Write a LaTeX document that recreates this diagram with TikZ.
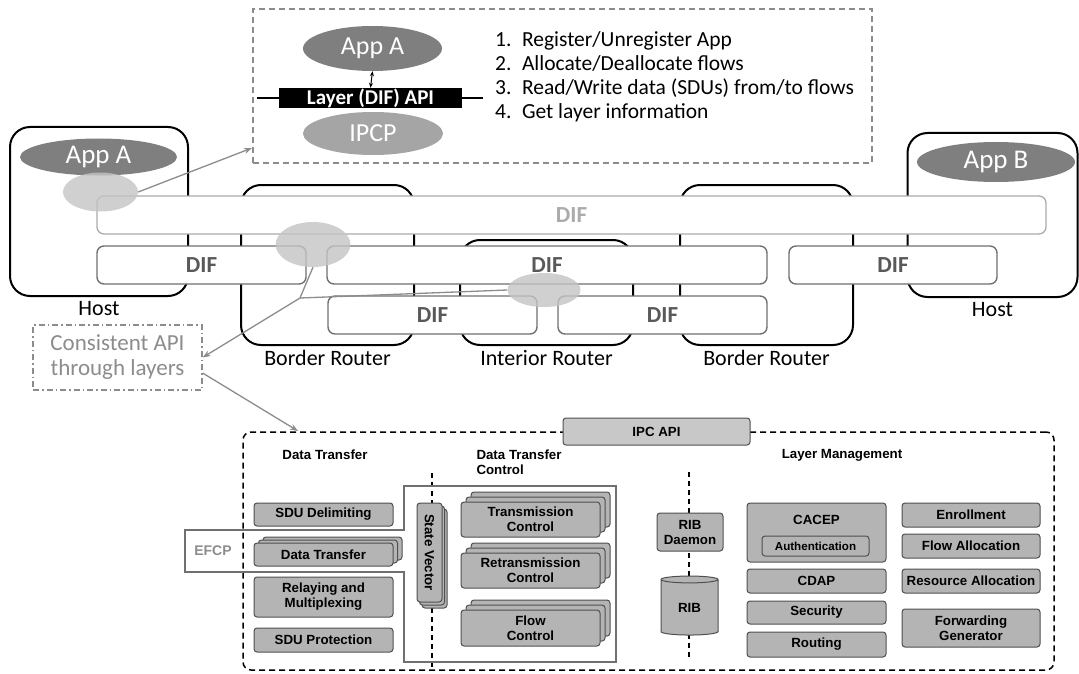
\documentclass[tikz,border=0pt]{standalone}
\usepackage{fontspec}
\usepackage{graphicx}
\setmainfont{Carlito}
\newfontfamily\arialfont{Liberation Sans}
\usetikzlibrary{shapes.geometric,shadows,arrows.meta}

\definecolor{appgray}{HTML}{7F7F7F}
\definecolor{ipcpgray}{HTML}{A5A5A5}
\definecolor{bubblegray}{HTML}{C4C4C4}
\definecolor{difline}{HTML}{707070}
\definecolor{diftext}{HTML}{595959}
\definecolor{topdif}{HTML}{ABABAB}
\definecolor{notegray}{HTML}{8C8C8C}
\definecolor{modfill}{HTML}{B4B4B4}
\definecolor{modline}{HTML}{505050}
\definecolor{apifill}{HTML}{C8C8C8}

\begin{document}
\begin{tikzpicture}[x=1pt,y=-1pt,>={Stealth[length=8pt,width=6pt]},
  app/.style={ellipse,fill=appgray,text=white,inner sep=0pt,
              font=\fontsize{27}{27}\selectfont},
  ipcp/.style={ellipse,fill=ipcpgray,text=white,inner sep=0pt,
              font=\fontsize{26}{26}\selectfont},
  bubble/.style={ellipse,fill=bubblegray,fill opacity=.8,inner sep=0pt},
  device/.style={draw,line width=2pt,rounded corners=20pt,inner sep=0pt},
  dif/.style={draw=difline,line width=1.4pt,fill=white,rounded corners=7pt,
              minimum height=38pt,text=diftext,inner sep=0pt,
              font=\fontsize{23}{23}\selectfont\bfseries},
  link/.style={draw=notegray,line width=1.3pt},
  module/.style={draw=modline,fill=modfill,line width=1pt,rounded corners=3pt,
              align=center,inner sep=0pt,
              font=\arialfont\bfseries\fontsize{13.3}{15}\selectfont},
  stackup/.style 2 args={module,double copy shadow={shadow xshift=#1,shadow yshift=#2}},
  colhead/.style={align=left,font=\arialfont\bfseries\fontsize{13.3}{15}\selectfont},
  every label/.style={inner sep=0pt,font=\fontsize{22}{22}\selectfont},
  label distance=4pt]
\useasboundingbox (0,0) rectangle (1079,674);

% what the layer API offers
\node[draw=notegray,line width=1.3pt,dash pattern=on 6pt off 4pt,
      minimum width=619pt,minimum height=154pt] (topbox) at (562.5,86) {};
\node[app,minimum width=139pt,minimum height=45pt,font=\fontsize{26}{26}\selectfont] (appt) at (372.5,48.5) {App A};
\node[ipcp,minimum width=140pt,minimum height=43pt] (ipcpt) at (373,133.5) {IPCP};
\coordinate (barl) at (257,98);
\coordinate (barr) at (483,98);
\draw[line width=1.8pt] (barl) -- (barr);
\node[fill=black,text=white,minimum width=183pt,minimum height=20pt,inner sep=0pt,
      font=\fontsize{21}{21}\selectfont\bfseries] (bar) at (370.5,98) {Layer (DIF) API};
\draw[{Stealth[length=5pt,width=4pt]}-{Stealth[length=5pt,width=4pt]},line width=1pt] (appt.south) -- (bar.north);
\node[anchor=base west,inner sep=0pt,font=\fontsize{21.5}{24}\selectfont] (ops) at (495,47)
  {\begin{tabular}[t]{@{}l@{\hspace{10.5pt}}l@{}}
   1. & Register/Unregister App\\
   2. & Allocate/Deallocate flows\\
   3. & Read/Write data (SDUs) from/to flows\\
   4. & Get layer information
   \end{tabular}};

% hosts and routers
\node[device,minimum width=178pt,minimum height=169pt,label=below:Host] (hostl) at (99,211.5) {};
\node[device,minimum width=173pt,minimum height=160pt,label=below:Border Router] (brl) at (327.5,265) {};
\node[device,minimum width=173pt,minimum height=105pt,label=below:Interior Router] (irt) at (546.5,292.5) {};
\node[device,minimum width=173pt,minimum height=160pt,label=below:Border Router] (brr) at (766.5,265) {};
\node[device,minimum width=170pt,minimum height=164pt,label=below:Host] (hostr) at (992.5,215) {};
\node[app,minimum width=157pt,minimum height=37pt] (appa) at (98.5,157) {App A};
\node[app,minimum width=158pt,minimum height=40pt] (appb) at (996,162) {App B};

\node[dif,draw=topdif,text=topdif,line width=1.3pt,minimum width=949pt] (diftop) at (571.5,215) {DIF};
\node[dif,minimum width=209pt] (dif1) at (201.5,265) {DIF};
\node[dif,minimum width=440pt] (dif2) at (547,265) {DIF};
\node[dif,minimum width=208pt] (dif3) at (893,265) {DIF};
\node[dif,minimum width=209pt] (dif4) at (432.5,315) {DIF};
\node[dif,minimum width=209pt] (dif5) at (662.5,315) {DIF};

\node[bubble,minimum width=75pt,minimum height=39pt] (hostbub) at (100.5,192) {};
\node[bubble,minimum width=75pt,minimum height=45pt] (brbub) at (313,244.5) {};
\node[bubble,minimum width=73pt,minimum height=34pt] (irbub) at (544,290) {};

\coordinate (topin) at (252,148);
\draw[link,->] (hostbub.east) -- (topin);
\coordinate (junct) at (300,298);
\draw[link] (brbub.south) -- (junct);
\draw[link] (irbub.west) -- (junct);
\node[draw=notegray,line width=1.2pt,dash pattern=on 6pt off 3pt on 1.5pt off 3pt,
      minimum width=169pt,minimum height=65pt,align=center,text=notegray,
      font=\fontsize{23}{25}\selectfont] (apinote) at (117.5,357.5) {Consistent API\\through layers};
\draw[link,->] (junct) -- (apinote.east);
\coordinate (ipcin) at (298,431);
\draw[link,->] ([yshift=-15.5pt]apinote.east) -- (ipcin);

% inside an IPC process
\node[draw,line width=1.5pt,dash pattern=on 6pt off 4pt,rounded corners=8pt,
      minimum width=811pt,minimum height=238pt] (ipcbox) at (648.5,551) {};
\node[module,fill=apifill,minimum width=187pt,minimum height=27pt] (ipcapi) at (656.5,431.5) {IPC API};
\node[colhead] (dthead) at (325,455) {Data Transfer};
\node[colhead] (dtchead) at (519,462) {Data Transfer\\Control};
\node[colhead] (lmhead) at (842,455) {Layer Management};
\draw[line width=1.5pt,dash pattern=on 5pt off 4pt] (432,473) -- (432,670);
\draw[line width=1.5pt,dash pattern=on 5pt off 4pt] (689,472) -- (689,660);
\draw[draw=notegray!80!black,line width=1.3pt] (185,530) -- (404,530) -- (404,486) -- (616,486)
  -- (616,662) -- (404,662) -- (404,572) -- (185,572) -- cycle;
\node[text=notegray,font=\arialfont\bfseries\fontsize{14}{14}\selectfont] (efcp) at (213,551) {EFCP};

\node[module,minimum width=139pt,minimum height=23pt] (sdudel) at (323.5,514.5) {SDU Delimiting};
\node[stackup={4.5pt}{3pt},minimum width=139pt,minimum height=23pt] (dtmod) at (323.5,554.5) {Data Transfer};
\node[module,minimum width=139pt,minimum height=40pt] (relay) at (323.5,597) {Relaying and\\Multiplexing};
\node[module,minimum width=139pt,minimum height=24pt] (sduprot) at (323.5,640) {SDU Protection};
\node[stackup={2.5pt}{-3pt},minimum width=25pt,minimum height=99pt] (statevec) at (429.5,552.5) {\rotatebox{-90}{State Vector}};
\node[stackup={5pt}{5pt},minimum width=139pt,minimum height=35pt] (transctl) at (530.5,519.5) {Transmission\\Control};
\node[stackup={5pt}{5pt},minimum width=139pt,minimum height=35pt] (retrans) at (530.5,570.5) {Retransmission\\Control};
\node[stackup={5pt}{5pt},minimum width=139pt,minimum height=36pt] (flowctl) at (530.5,628) {Flow\\Control};

\node[module,minimum width=66pt,minimum height=38pt] (ribd) at (690,532) {RIB\\Daemon};
\node[module,cylinder,shape border rotate=90,aspect=0.3,sharp corners,
      minimum width=57pt,minimum height=59pt] (rib) at (689.5,607.5) {RIB};

\node[module,minimum width=139pt,minimum height=59pt] (cacep) at (816.5,532.5) {};
\node[font=\arialfont\bfseries\fontsize{13.3}{15}\selectfont] (cacepl) at (816.5,520) {CACEP};
\node[module,minimum width=107pt,minimum height=20pt,
      font=\arialfont\bfseries\fontsize{11.6}{12}\selectfont] (auth) at (815.5,546) {Authentication};
\node[module,minimum width=139pt,minimum height=24pt] (cdap) at (816.5,581) {CDAP};
\node[module,minimum width=139pt,minimum height=23pt] (security) at (816.5,612.5) {Security};
\node[module,minimum width=139pt,minimum height=25pt] (routing) at (816.5,644.5) {Routing};
\node[module,minimum width=138pt,minimum height=24pt] (enroll) at (971,515) {Enrollment};
\node[module,minimum width=138pt,minimum height=24pt] (flowalloc) at (971,546) {Flow Allocation};
\node[module,minimum width=138pt,minimum height=24pt] (resalloc) at (971,581) {Resource Allocation};
\node[module,minimum width=138pt,minimum height=38pt] (fwdgen) at (971,628) {Forwarding\\Generator};
\end{tikzpicture}
\end{document}
